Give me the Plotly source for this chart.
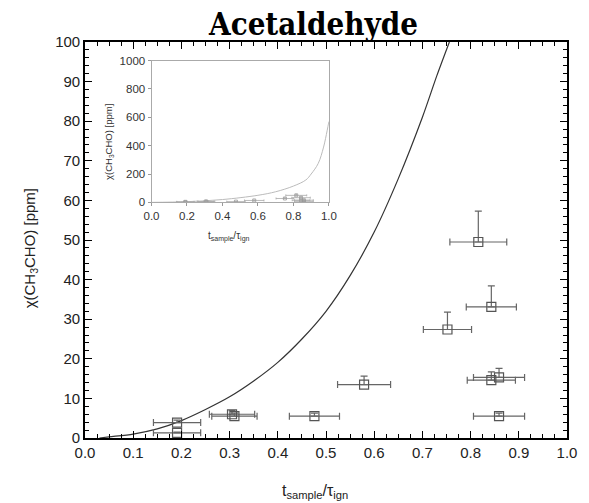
import plotly.graph_objects as go

# Measured acetaldehyde mole fractions vs. normalised sampling time
t_meas = [0.191, 0.191, 0.305, 0.310, 0.476, 0.579, 0.752, 0.816, 0.843, 0.843, 0.859, 0.859]
x_meas = [3.9, 1.3, 6.0, 5.5, 5.5, 13.5, 27.4, 49.5, 33.1, 14.6, 15.3, 5.5]
t_err = [0.049, 0.049, 0.047, 0.047, 0.052, 0.055, 0.050, 0.059, 0.052, 0.050, 0.053, 0.053]
x_err_up = [0.6, 0.2, 0.9, 0.8, 0.8, 2.1, 4.4, 7.8, 5.3, 2.1, 2.3, 0.8]

# Model prediction (main panel)
t_model = [0.03, 0.05, 0.10, 0.15, 0.20, 0.25, 0.30, 0.35, 0.40, 0.45, 0.50,
           0.55, 0.60, 0.65, 0.70, 0.73, 0.756]
x_model = [0.0, 0.3, 1.0, 2.3, 4.4, 7.2, 10.4, 14.4, 19.1, 25.0, 32.0,
           41.0, 52.0, 65.5, 81.0, 91.5, 100.0]

# Model prediction over the full ignition delay (inset)
t_model_full = [0.0, 0.2, 0.4, 0.6, 0.7, 0.8, 0.87, 0.90, 0.94, 0.97, 0.99, 1.0]
x_model_full = [0.0, 5.0, 20.0, 50.0, 75.0, 115.0, 158.0, 200.0, 275.0, 390.0, 505.0, 570.0]

x_ticks_main = [0.0, 0.1, 0.2, 0.3, 0.4, 0.5, 0.6, 0.7, 0.8, 0.9, 1.0]
y_ticks_main = [0, 10, 20, 30, 40, 50, 60, 70, 80, 90, 100]

FONT = "Liberation Sans, Arial, sans-serif"

fig = go.Figure()

fig.add_trace(go.Scatter(
    x=t_model, y=x_model, mode="lines", line=dict(color="#333333", width=1.2, shape="spline", smoothing=0.8),
    xaxis="x", yaxis="y", showlegend=False, hoverinfo="skip"))

fig.add_trace(go.Scatter(
    x=t_meas, y=x_meas, mode="markers",
    marker=dict(symbol="square-open", size=9, color="#555555", line=dict(width=1.2)),
    error_x=dict(type="data", array=t_err, color="#666666", thickness=1.2, width=3.5),
    error_y=dict(type="data", symmetric=False, array=x_err_up, arrayminus=[0] * len(x_err_up),
                 color="#666666", thickness=1.2, width=3.5),
    xaxis="x", yaxis="y", showlegend=False))

# Inset traces
fig.add_trace(go.Scatter(
    x=t_model_full, y=x_model_full, mode="lines", line=dict(color="#bbbbbb", width=1, shape="spline"),
    xaxis="x2", yaxis="y2", showlegend=False, hoverinfo="skip"))

fig.add_trace(go.Scatter(
    x=t_meas, y=x_meas, mode="markers",
    marker=dict(symbol="square-open", size=3, color="#999999", line=dict(width=0.8)),
    error_x=dict(type="data", array=t_err, color="#aaaaaa", thickness=0.8, width=1),
    error_y=dict(type="data", symmetric=False, array=x_err_up, arrayminus=[0] * len(x_err_up),
                 color="#aaaaaa", thickness=0.8, width=1),
    xaxis="x2", yaxis="y2", showlegend=False))

axis_main = dict(
    showgrid=False, zeroline=False, showline=True, linecolor="black", linewidth=1.6,
    mirror="allticks", ticks="inside", ticklen=7, tickwidth=1.4, tickcolor="black",
    tickfont=dict(family=FONT, size=15, color="#222222"),
)

fig.update_layout(
    width=589, height=503,
    margin=dict(l=85, r=12, t=41.5, b=65),
    paper_bgcolor="white", plot_bgcolor="white",
    xaxis=dict(**axis_main, range=[0, 1], tickvals=x_ticks_main,
               ticktext=[f"{v:.1f}" for v in x_ticks_main],
               minor=dict(dtick=0.025, ticks="inside", ticklen=4, tickwidth=1.2, tickcolor="black")),
    yaxis=dict(**axis_main, range=[0, 100], tickvals=y_ticks_main,
               minor=dict(dtick=2, ticks="inside", ticklen=4, tickwidth=1.2, tickcolor="black")),
    xaxis2=dict(domain=[0.138, 0.506], anchor="y2", range=[0, 1], dtick=0.2, tickformat=".1f",
                showgrid=False, zeroline=False, showline=True, linecolor="#aaaaaa", linewidth=1,
                mirror=True, ticks="outside", ticklen=3, tickcolor="#999999",
                tickfont=dict(family=FONT, size=11.5, color="#333333")),
    yaxis2=dict(domain=[0.595, 0.953], anchor="x2", range=[0, 1000], dtick=200,
                showgrid=False, zeroline=False, showline=True, linecolor="#aaaaaa", linewidth=1,
                mirror=True, ticks="outside", ticklen=3, tickcolor="#999999",
                tickfont=dict(family=FONT, size=11.5, color="#333333")),
    annotations=[
        dict(text="<b>Acetaldehyde</b>", x=0.472, y=0.994, xref="paper", yref="paper",
             xanchor="center", yanchor="bottom", showarrow=False,
             font=dict(family="DejaVu Serif Condensed, DejaVu Serif, serif", size=31, color="black")),
        dict(text="χ(CH<sub>3</sub>CHO) [ppm]", x=-0.114, y=0.479, xref="paper", yref="paper",
             textangle=-90, xanchor="center", yanchor="middle", showarrow=False,
             font=dict(family=FONT, size=15, color="#222222")),
        dict(text="t<sub>sample</sub>/τ<sub>ign</sub>", x=0.478, y=-0.136, xref="paper", yref="paper",
             xanchor="center", yanchor="middle", showarrow=False,
             font=dict(family=FONT, size=16, color="#222222")),
        dict(text="χ(CH<sub>3</sub>CHO) [ppm]", x=0.051, y=0.7465, xref="paper", yref="paper",
             textangle=-90, xanchor="center", yanchor="middle", showarrow=False,
             font=dict(family=FONT, size=9.5, color="#333333")),
        dict(text="t<sub>sample</sub>/τ<sub>ign</sub>", x=0.299, y=0.509, xref="paper", yref="paper",
             xanchor="center", yanchor="middle", showarrow=False,
             font=dict(family=FONT, size=10, color="#333333")),
    ],
)

fig.write_html("out.html")
